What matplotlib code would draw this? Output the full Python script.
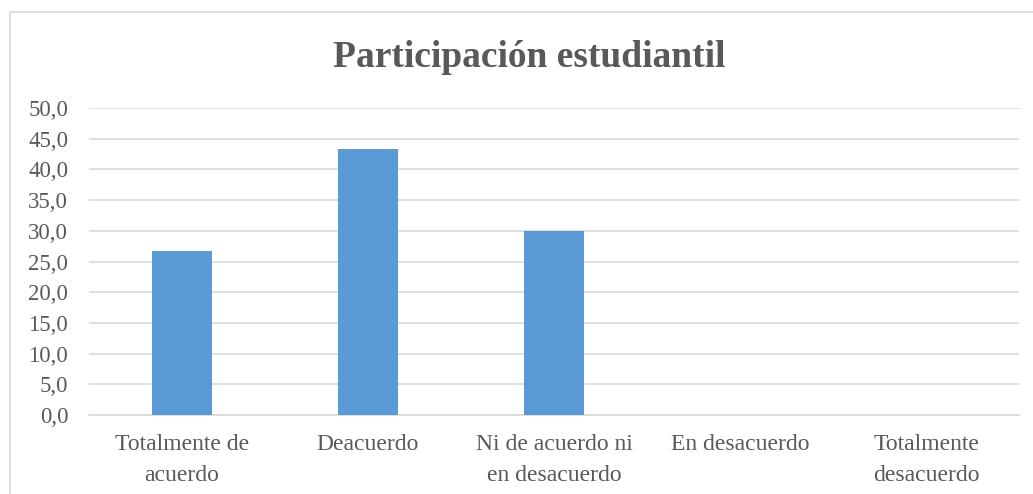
import matplotlib
matplotlib.use("Agg")
import matplotlib.pyplot as plt
from matplotlib.lines import Line2D

categories = ["Totalmente de\nacuerdo", "Deacuerdo", "Ni de acuerdo ni\nen desacuerdo",
              "En desacuerdo", "Totalmente\ndesacuerdo"]
values = [26.7, 43.3, 30.0, 0.0, 0.0]
yticks = [0, 5, 10, 15, 20, 25, 30, 35, 40, 45, 50]
title = "Participación estudiantil"

W, H = 1033, 494
plt.rcParams['font.family'] = ['Liberation Serif', 'DejaVu Serif']
txt = '#595959'
grid = '#D9D9D9'

fig = plt.figure(figsize=(W / 100, H / 100), dpi=100)
ax = fig.add_axes([89 / W, 1 - 415 / H, (1019 - 89) / W, (415 - 108) / H])

x = list(range(len(categories)))
ax.bar(x, values, width=0.32, color='#5B9BD5', zorder=3)
ax.set_xlim(-0.5, len(categories) - 0.5)
ax.set_ylim(0, 50)
ax.set_yticks(yticks)
ax.set_yticklabels([f"{v:.1f}".replace('.', ',') for v in yticks])
ax.set_xticks(x)
ax.set_xticklabels(categories, linespacing=1.6)
ax.tick_params(axis='y', length=0, pad=15, labelsize=16.5, labelcolor=txt)
ax.tick_params(axis='x', length=0, pad=14, labelsize=17, labelcolor=txt)
ax.grid(axis='y', color=grid, linewidth=1.2, zorder=0)
for s in ['top', 'right', 'left']:
    ax.spines[s].set_visible(False)
ax.spines['bottom'].set_color(grid)
ax.spines['bottom'].set_linewidth(1.2)

fig.text(529 / W, 1 - 67 / H, title, ha='center', va='baseline',
         fontsize=27, fontweight='bold', color=txt)

# outer chart frame (left and top edges visible)
fig.add_artist(Line2D([9.5 / W, 9.5 / W], [0, 1 - 12 / H], color=grid, lw=1.2,
                      transform=fig.transFigure))
fig.add_artist(Line2D([9.5 / W, 1], [1 - 12 / H, 1 - 12 / H], color=grid, lw=1.2,
                      transform=fig.transFigure))

fig.savefig("out.png", dpi=100)
